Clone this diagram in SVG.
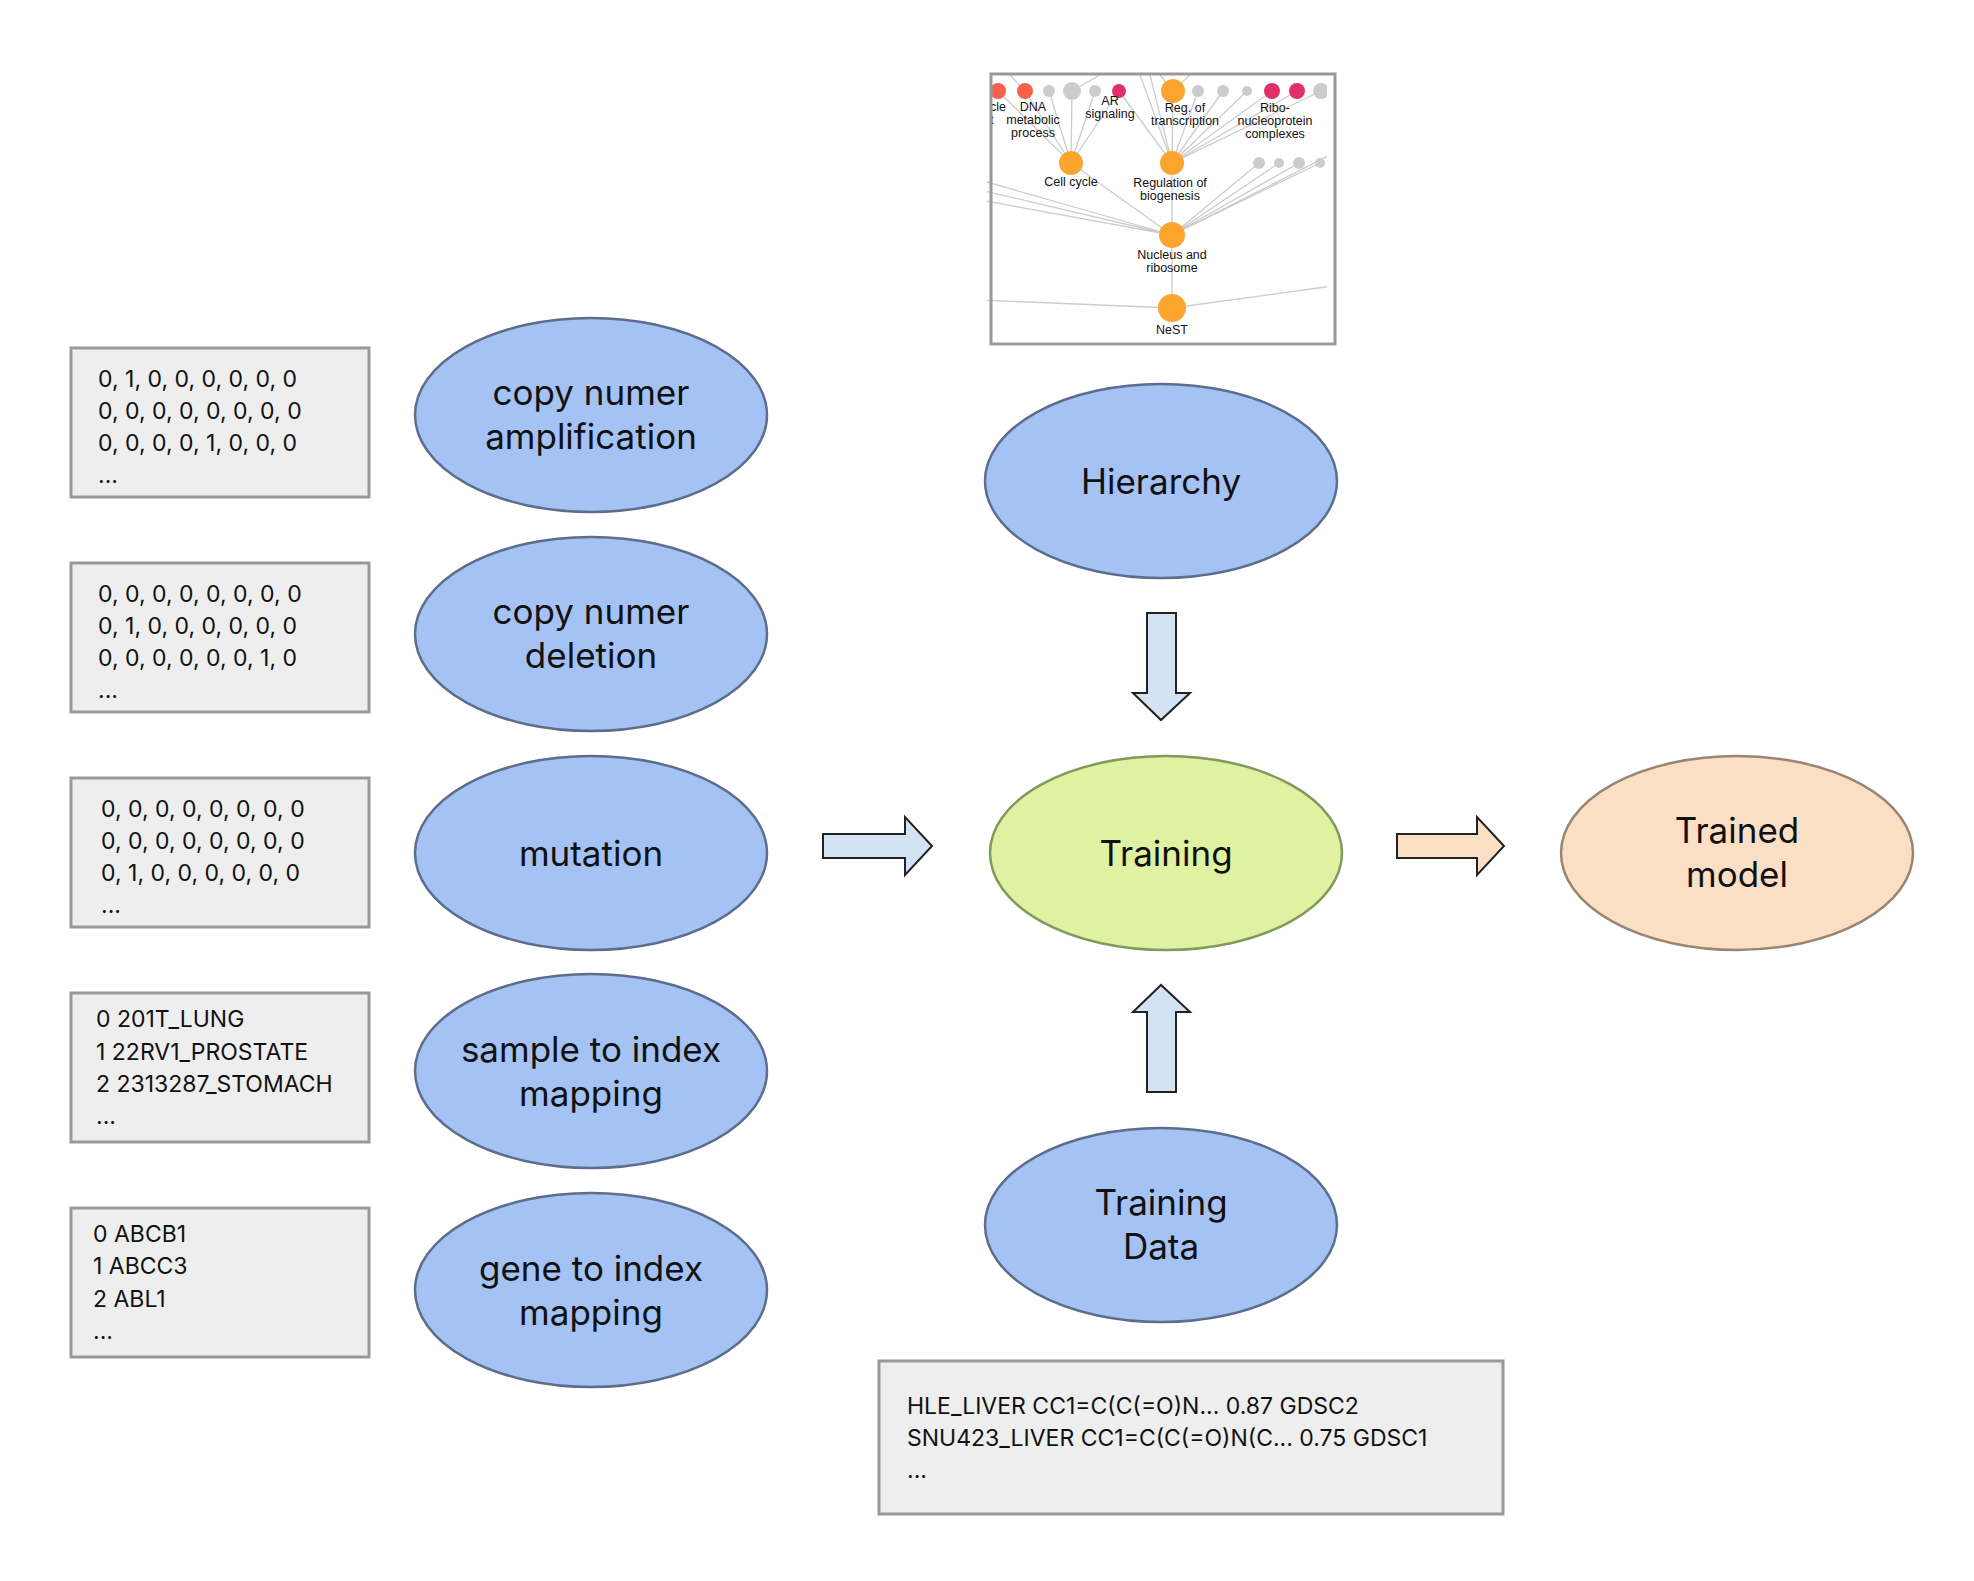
<svg xmlns="http://www.w3.org/2000/svg" width="1974" height="1581" viewBox="0 0 1974 1581">
<style>
.box{fill:#eeeeee;stroke:#999999;stroke-width:3}
.bt{font-family:Inter,"Liberation Sans",sans-serif;font-size:23px;fill:#111}
.el{fill:#a4c2f4;stroke:#5c6e8c;stroke-width:2.5}
.et{font-family:Inter,"Liberation Sans",sans-serif;font-size:35px;fill:#111;text-anchor:middle}
.arr{fill:#d3e3f3;stroke:#222;stroke-width:2}
.hl{stroke:#cccccc;stroke-width:1.3;fill:none}
.ht{font-family:"Liberation Sans",Arial,sans-serif;font-size:12.5px;fill:#111;text-anchor:middle}
</style>
<defs><clipPath id="hc"><rect x="987" y="75" width="340" height="266"/></clipPath></defs>
<rect width="1974" height="1581" fill="#fff"/>
<g id="hierarchy-image">
<rect x="991" y="74" width="344" height="270" fill="#fff"/>
<g clip-path="url(#hc)">
<g class="hl">
<path d="M980 300L1172 308M1340 285L1172 308M1172 235L1172 308M1172 163L1172 235M1071 163L1172 235M980 180L1172 235M980 190L1172 235M980 200L1172 235M1259 163L1172 235M1279 163L1172 235M1299 163L1172 235M1320 163L1172 235M1340 150L1172 235"/>
<path d="M998 91L1071 163M1025 91L1071 163M1049 91L1071 163M1072 91L1071 163M1095 91L1071 163M1119 91L1071 163M1173 91L1172 163M1119 91L1172 163M1198 91L1172 163M1223 91L1172 163M1247 91L1172 163M1272 91L1172 163M1297 91L1172 163M1321 91L1172 163M1140 75L1172 163M1150 75L1172 163M1190 75L1173 91M1160 75L1173 91M1010 75L1025 91M1100 75L1072 91"/>
</g>
<circle cx="998" cy="91" r="8" fill="#f7614a"/>
<circle cx="1025" cy="91" r="8" fill="#f7614a"/>
<circle cx="1049" cy="91" r="6" fill="#cccccc"/>
<circle cx="1072" cy="91" r="9" fill="#cccccc"/>
<circle cx="1095" cy="91" r="6" fill="#cccccc"/>
<circle cx="1119" cy="91" r="7" fill="#e0306a"/>
<circle cx="1173" cy="91" r="12" fill="#fca52e"/>
<circle cx="1198" cy="91" r="6" fill="#cccccc"/>
<circle cx="1223" cy="91" r="6" fill="#cccccc"/>
<circle cx="1247" cy="91" r="5" fill="#cccccc"/>
<circle cx="1272" cy="91" r="8" fill="#e0306a"/>
<circle cx="1297" cy="91" r="8" fill="#e0306a"/>
<circle cx="1321" cy="91" r="8" fill="#cccccc"/>
<circle cx="1259" cy="163" r="6" fill="#cccccc"/>
<circle cx="1279" cy="163" r="5" fill="#cccccc"/>
<circle cx="1299" cy="163" r="6" fill="#cccccc"/>
<circle cx="1320" cy="163" r="5" fill="#cccccc"/>
<circle cx="1071" cy="163" r="12" fill="#fca52e"/>
<circle cx="1172" cy="163" r="12" fill="#fca52e"/>
<circle cx="1172" cy="235" r="13" fill="#fca52e"/>
<circle cx="1172" cy="308" r="14" fill="#fca52e"/>
<text class="ht" x="998" y="111">cle</text><text class="ht" x="992" y="124">t</text>
<text class="ht" x="1033" y="111">DNA</text><text class="ht" x="1033" y="124">metabolic</text><text class="ht" x="1033" y="137">process</text>
<text class="ht" x="1110" y="105">AR</text><text class="ht" x="1110" y="118">signaling</text>
<text class="ht" x="1185" y="112">Reg. of</text><text class="ht" x="1185" y="125">transcription</text>
<text class="ht" x="1275" y="112">Ribo-</text><text class="ht" x="1275" y="125">nucleoprotein</text><text class="ht" x="1275" y="138">complexes</text>
<text class="ht" x="1071" y="186">Cell cycle</text>
<text class="ht" x="1170" y="187">Regulation of</text><text class="ht" x="1170" y="200">biogenesis</text>
<text class="ht" x="1172" y="259">Nucleus and</text><text class="ht" x="1172" y="272">ribosome</text>
<text class="ht" x="1172" y="334">NeST</text>
</g>
<rect x="991" y="74" width="344" height="270" fill="none" stroke="#999" stroke-width="3"/>
</g>
<g id="connectors">
<path class="arr" d="M823 834H905V817L932 846L905 875V858H823Z"/>
<path class="arr" d="M1147 613H1176V693H1190L1161 720L1133 693H1147Z"/>
<path class="arr" d="M1147 1092H1176V1012H1190L1161 985L1133 1012H1147Z"/>
<path d="M1397 834H1477V817L1504 846L1477 875V858H1397Z" fill="#fadfc4" stroke="#222" stroke-width="2"/>
</g>
<g id="box-amp"><rect class="box" x="71" y="348" width="298" height="149"/>
<text class="bt" x="98" y="387">0, 1, 0, 0, 0, 0, 0, 0</text><text class="bt" x="98" y="419">0, 0, 0, 0, 0, 0, 0, 0</text><text class="bt" x="98" y="451">0, 0, 0, 0, 1, 0, 0, 0</text><text class="bt" x="98" y="483">...</text></g>
<g id="box-del"><rect class="box" x="71" y="563" width="298" height="149"/>
<text class="bt" x="98" y="602">0, 0, 0, 0, 0, 0, 0, 0</text><text class="bt" x="98" y="634">0, 1, 0, 0, 0, 0, 0, 0</text><text class="bt" x="98" y="666">0, 0, 0, 0, 0, 0, 1, 0</text><text class="bt" x="98" y="698">...</text></g>
<g id="box-mut"><rect class="box" x="71" y="778" width="298" height="149"/>
<text class="bt" x="101" y="817">0, 0, 0, 0, 0, 0, 0, 0</text><text class="bt" x="101" y="849">0, 0, 0, 0, 0, 0, 0, 0</text><text class="bt" x="101" y="881">0, 1, 0, 0, 0, 0, 0, 0</text><text class="bt" x="101" y="913">...</text></g>
<g id="box-sample"><rect class="box" x="71" y="993" width="298" height="149"/>
<text class="bt" x="96" y="1027">0 201T_LUNG</text><text class="bt" x="96" y="1060">1 22RV1_PROSTATE</text><text class="bt" x="96" y="1092">2 2313287_STOMACH</text><text class="bt" x="96" y="1124">...</text></g>
<g id="box-gene"><rect class="box" x="71" y="1208" width="298" height="149"/>
<text class="bt" x="93" y="1242">0 ABCB1</text><text class="bt" x="93" y="1274">1 ABCC3</text><text class="bt" x="93" y="1307">2 ABL1</text><text class="bt" x="93" y="1339">...</text></g>
<g id="box-train"><rect class="box" x="879" y="1361" width="624" height="153"/>
<text class="bt" x="907" y="1414">HLE_LIVER CC1=C(C(=O)N... 0.87 GDSC2</text><text class="bt" x="907" y="1446">SNU423_LIVER CC1=C(C(=O)N(C... 0.75 GDSC1</text><text class="bt" x="907" y="1478">...</text></g>
<g id="n-amp"><ellipse class="el" cx="591" cy="415" rx="176" ry="97"/><text class="et" x="591" y="405">copy numer</text><text class="et" x="591" y="449">amplification</text></g>
<g id="n-del"><ellipse class="el" cx="591" cy="634" rx="176" ry="97"/><text class="et" x="591" y="624">copy numer</text><text class="et" x="591" y="668">deletion</text></g>
<g id="n-mut"><ellipse class="el" cx="591" cy="853" rx="176" ry="97"/><text class="et" x="591" y="866">mutation</text></g>
<g id="n-sample"><ellipse class="el" cx="591" cy="1071" rx="176" ry="97"/><text class="et" x="591" y="1062">sample to index</text><text class="et" x="591" y="1106">mapping</text></g>
<g id="n-gene"><ellipse class="el" cx="591" cy="1290" rx="176" ry="97"/><text class="et" x="591" y="1281">gene to index</text><text class="et" x="591" y="1325">mapping</text></g>
<g id="n-hier"><ellipse class="el" cx="1161" cy="481" rx="176" ry="97"/><text class="et" x="1161" y="494">Hierarchy</text></g>
<g id="n-training"><ellipse cx="1166" cy="853" rx="176" ry="97" fill="#dff2a2" stroke="#7f9a5a" stroke-width="2.5"/><text class="et" x="1166" y="866">Training</text></g>
<g id="n-tdata"><ellipse class="el" cx="1161" cy="1225" rx="176" ry="97"/><text class="et" x="1161" y="1215">Training</text><text class="et" x="1161" y="1259">Data</text></g>
<g id="n-model"><ellipse cx="1737" cy="853" rx="176" ry="97" fill="#fadfc4" stroke="#9a8573" stroke-width="2.5"/><text class="et" x="1737" y="843">Trained</text><text class="et" x="1737" y="887">model</text></g>
</svg>
